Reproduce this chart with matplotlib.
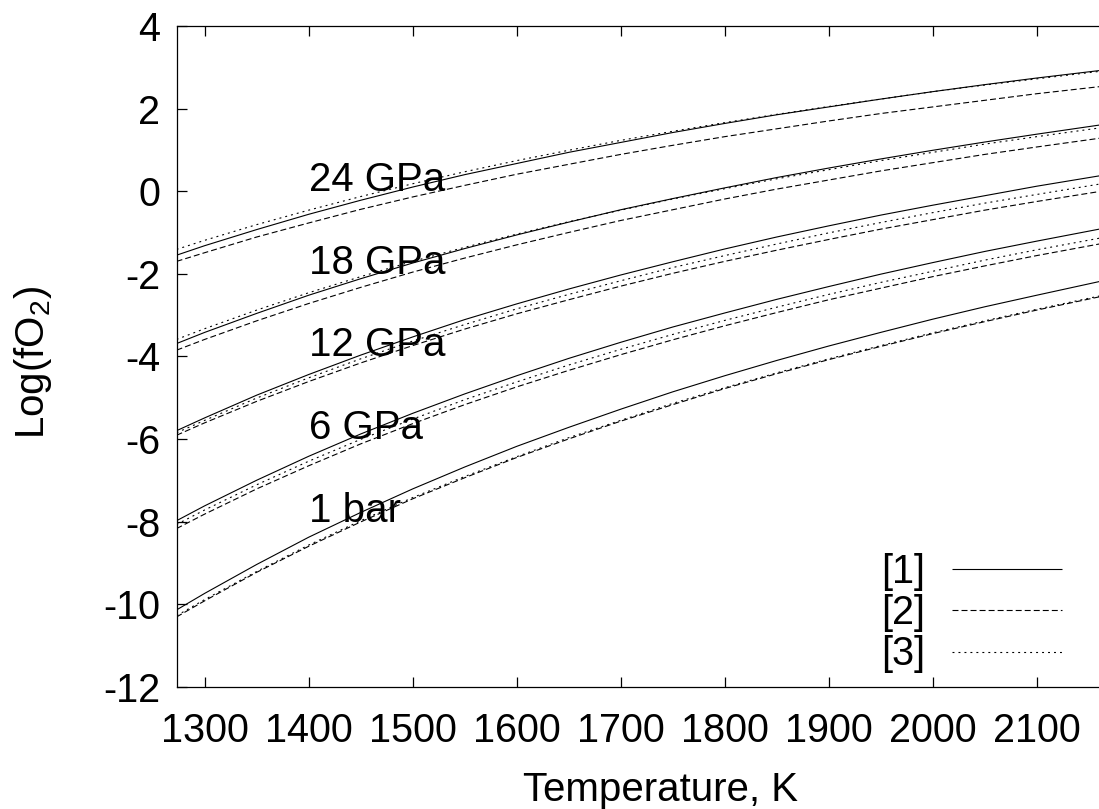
import matplotlib
matplotlib.use("Agg")
import matplotlib.pyplot as plt

plt.rcParams["font.family"] = ["Liberation Sans", "DejaVu Sans"]
plt.rcParams["mathtext.fontset"] = "custom"
plt.rcParams["mathtext.rm"] = "Liberation Sans"
plt.rcParams["mathtext.it"] = "Liberation Sans:italic"
plt.rcParams["axes.unicode_minus"] = False
plt.rcParams["lines.scale_dashes"] = False

# temperature grid, K
T = [1273, 1300, 1350, 1400, 1450, 1500, 1550, 1600, 1650, 1700,
     1750, 1800, 1850, 1900, 1950, 2000, 2050, 2100, 2160]

# log fO2 per pressure, three sources: [1] solid, [2] dashed, [3] dotted
p24_1 = [-1.55, -1.32, -0.93, -0.56, -0.22, 0.10, 0.40, 0.67, 0.94, 1.18,
         1.42, 1.64, 1.85, 2.04, 2.23, 2.41, 2.58, 2.74, 2.92]
p24_2 = [-1.70, -1.49, -1.11, -0.77, -0.44, -0.14, 0.14, 0.41, 0.65, 0.89,
         1.11, 1.32, 1.51, 1.70, 1.88, 2.04, 2.20, 2.36, 2.53]
p24_3 = [-1.41, -1.19, -0.81, -0.46, -0.13, 0.18, 0.47, 0.74, 0.99, 1.23,
         1.45, 1.66, 1.86, 2.05, 2.23, 2.41, 2.57, 2.72, 2.90]

p18_1 = [-3.69, -3.42, -2.96, -2.52, -2.12, -1.74, -1.39, -1.06, -0.75, -0.45,
         -0.18, 0.08, 0.33, 0.56, 0.78, 0.99, 1.19, 1.38, 1.60]
p18_2 = [-3.85, -3.59, -3.14, -2.72, -2.33, -1.96, -1.62, -1.30, -1.00, -0.71,
         -0.45, -0.19, 0.05, 0.27, 0.49, 0.69, 0.89, 1.07, 1.28]
p18_3 = [-3.59, -3.33, -2.88, -2.46, -2.07, -1.70, -1.36, -1.04, -0.74, -0.46,
         -0.19, 0.06, 0.30, 0.52, 0.74, 0.94, 1.14, 1.32, 1.53]

p12_1 = [-5.80, -5.49, -4.94, -4.44, -3.97, -3.53, -3.11, -2.73, -2.37, -2.03,
         -1.71, -1.40, -1.11, -0.84, -0.58, -0.34, -0.11, 0.12, 0.37]
p12_2 = [-5.91, -5.61, -5.09, -4.61, -4.16, -3.74, -3.34, -2.97, -2.63, -2.30,
         -1.99, -1.70, -1.43, -1.17, -0.92, -0.69, -0.46, -0.25, -0.01]
p12_3 = [-5.85, -5.55, -5.01, -4.52, -4.06, -3.63, -3.23, -2.85, -2.50, -2.17,
         -1.85, -1.56, -1.28, -1.01, -0.76, -0.52, -0.29, -0.08, 0.17]

p6_1 = [-7.98, -7.62, -7.00, -6.42, -5.88, -5.38, -4.91, -4.47, -4.05, -3.66,
        -3.29, -2.95, -2.62, -2.31, -2.01, -1.73, -1.46, -1.21, -0.92]
p6_2 = [-8.17, -7.82, -7.21, -6.65, -6.12, -5.63, -5.17, -4.74, -4.34, -3.96,
        -3.60, -3.26, -2.94, -2.63, -2.35, -2.07, -1.81, -1.56, -1.28]
p6_3 = [-8.07, -7.72, -7.11, -6.54, -6.01, -5.52, -5.05, -4.62, -4.21, -3.83,
        -3.47, -3.13, -2.81, -2.50, -2.21, -1.94, -1.67, -1.42, -1.14]

p0_1 = [-10.14, -9.74, -9.04, -8.38, -7.78, -7.21, -6.68, -6.18, -5.72, -5.28,
        -4.86, -4.47, -4.10, -3.75, -3.42, -3.10, -2.80, -2.52, -2.19]
p0_2 = [-10.31, -9.92, -9.23, -8.60, -8.01, -7.45, -6.94, -6.45, -6.00, -5.57,
        -5.17, -4.78, -4.42, -4.08, -3.76, -3.45, -3.16, -2.88, -2.56]
p0_3 = [-10.28, -9.89, -9.21, -8.57, -7.98, -7.42, -6.91, -6.43, -5.97, -5.55,
        -5.14, -4.76, -4.40, -4.06, -3.74, -3.43, -3.14, -2.86, -2.54]

curves = [
    (p24_1, p24_2, p24_3),
    (p18_1, p18_2, p18_3),
    (p12_1, p12_2, p12_3),
    (p6_1, p6_2, p6_3),
    (p0_1, p0_2, p0_3),
]
labels = ["24 GPa", "18 GPa", "12 GPa", "6 GPa", "1 bar"]
label_y = [0, -2, -4, -6, -8]
sources = ["[1]", "[2]", "[3]"]
dash_styles = [(0, ()), (0, (4.3, 2.2)), (0, (1.4, 2.9))]

fig = plt.figure(figsize=(10.99, 8.09), dpi=100)
ax = fig.add_axes([176.7 / 1099, 122.3 / 809, 922.3 / 1099, 660.7 / 809])

lw = 0.8
for i, group in enumerate(curves):
    for k, ys in enumerate(group):
        ax.plot(T, ys, color="black", lw=lw, linestyle=dash_styles[k],
                label=sources[k] if i == 0 else None)

for txt, yv in zip(labels, label_y):
    ax.text(1400, yv, txt, fontsize=29, va="baseline", ha="left")

ax.set_xlim(1273.1, 2159.9)
ax.set_ylim(-12, 4)
ax.set_xticks(range(1300, 2101, 100))
ax.set_yticks(range(-12, 5, 2))
ax.tick_params(axis="both", direction="in", length=7, width=0.9,
               labelsize=28.5, top=True, right=False)
ax.tick_params(axis="x", pad=18)
ax.tick_params(axis="y", pad=12)
for s in ax.spines.values():
    s.set_linewidth(0.9)
ax.spines["right"].set_visible(False)

ax.set_xlabel("Temperature, K", fontsize=29)
ax.xaxis.set_label_coords(0.525, -0.127)
ax.set_ylabel("Log(fO$_2$)", fontsize=29)
ax.yaxis.set_label_coords(-0.133, 0.49)

ax.legend(loc="lower right", bbox_to_anchor=(0.960, 0.02), frameon=False,
          markerfirst=False, fontsize=28.5, handlelength=2.79,
          handletextpad=0.68, labelspacing=0.08, borderpad=0,
          borderaxespad=0)

fig.savefig("out.png", dpi=100)
